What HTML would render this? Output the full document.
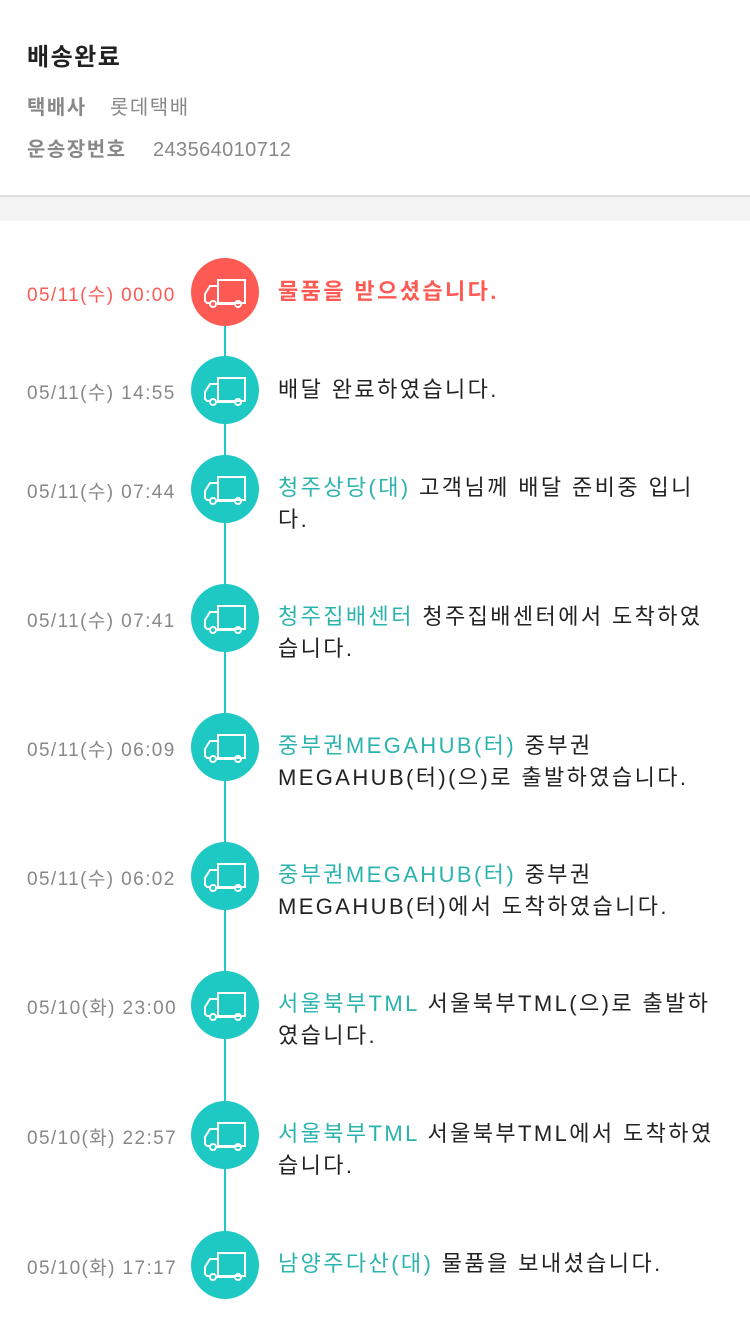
<!DOCTYPE html>
<html><head><meta charset="utf-8"><style>
*{margin:0;padding:0;box-sizing:border-box}
body{width:750px;height:1333px;background:#fff;font-family:"Liberation Sans","Noto Sans CJK KR",sans-serif;position:relative;overflow:hidden}
.t{position:absolute;left:27px;top:37px;font-size:24px;font-weight:bold;color:#222;letter-spacing:1.5px}
.r{position:absolute;left:27px;font-size:20px;color:#888;letter-spacing:1.5px}
.r b{color:#888;display:inline-block}
.band{position:absolute;left:0;top:195px;width:750px;height:26px;background:#f3f3f3;border-top:2px solid #ddd}
.line{position:absolute;left:224px;top:292px;width:2px;height:973px;background:#22c9c2}
.c{position:absolute;left:191px;width:68px;height:68px;border-radius:50%;background:#1fc9c3}
.c svg{position:absolute;left:13px;top:19px}
.d{position:absolute;left:27px;font-size:19px;color:#888;line-height:24px;letter-spacing:1.4px}
.x{position:absolute;left:278px;width:470px;font-size:22px;color:#222;line-height:32px;letter-spacing:2.4px;white-space:nowrap}
.g{color:#2bb3ad}
</style></head><body>
<div class="t">배송완료</div>
<div class="r" style="top:91px"><b style="width:83px">택배사</b>롯데택배</div>
<div class="r" style="top:133px"><b style="width:126px">운송장번호</b><span style="letter-spacing:0.4px">243564010712</span></div>
<div class="band"></div>
<div class="line"></div>

<svg width="0" height="0" style="position:absolute"><defs><g id="tr" fill="none" stroke="#fff" stroke-width="2"><path d="M14 3h27v23H14z"/><path d="M14 9H6L1 17v7l2 2h4"/><circle cx="9" cy="27" r="3"/><circle cx="34" cy="27" r="3"/><path d="M13 27h17"/></g></defs></svg>

<div class="c" style="top:258px;background:#fd5a53"><svg width="44" height="32"><use href="#tr"/></svg></div>
<div class="d" style="top:284px;color:#fd5a53">05/11(수) 00:00</div>
<div class="x" style="top:276px;color:#fd5a53;font-weight:bold">물품을 받으셨습니다.</div>

<div class="c" style="top:356px"><svg width="44" height="32"><use href="#tr"/></svg></div>
<div class="d" style="top:382px">05/11(수) 14:55</div>
<div class="x" style="top:374px">배달 완료하였습니다.</div>

<div class="c" style="top:455px"><svg width="44" height="32"><use href="#tr"/></svg></div>
<div class="d" style="top:481px">05/11(수) 07:44</div>
<div class="x" style="top:472px"><span class="g">청주상당(대)</span> 고객님께 배달 준비중 입니<br>다.</div>

<div class="c" style="top:584px"><svg width="44" height="32"><use href="#tr"/></svg></div>
<div class="d" style="top:610px">05/11(수) 07:41</div>
<div class="x" style="top:601px"><span class="g">청주집배센터</span> 청주집배센터에서 도착하였<br>습니다.</div>

<div class="c" style="top:713px"><svg width="44" height="32"><use href="#tr"/></svg></div>
<div class="d" style="top:739px">05/11(수) 06:09</div>
<div class="x" style="top:730px"><span class="g">중부권MEGAHUB(터)</span> 중부권<br>MEGAHUB(터)(으)로 출발하였습니다.</div>

<div class="c" style="top:842px"><svg width="44" height="32"><use href="#tr"/></svg></div>
<div class="d" style="top:868px">05/11(수) 06:02</div>
<div class="x" style="top:859px"><span class="g">중부권MEGAHUB(터)</span> 중부권<br>MEGAHUB(터)에서 도착하였습니다.</div>

<div class="c" style="top:971px"><svg width="44" height="32"><use href="#tr"/></svg></div>
<div class="d" style="top:997px">05/10(화) 23:00</div>
<div class="x" style="top:988px"><span class="g">서울북부TML</span> 서울북부TML(으)로 출발하<br>였습니다.</div>

<div class="c" style="top:1101px"><svg width="44" height="32"><use href="#tr"/></svg></div>
<div class="d" style="top:1127px">05/10(화) 22:57</div>
<div class="x" style="top:1118px"><span class="g">서울북부TML</span> 서울북부TML에서 도착하였<br>습니다.</div>

<div class="c" style="top:1231px"><svg width="44" height="32"><use href="#tr"/></svg></div>
<div class="d" style="top:1257px">05/10(화) 17:17</div>
<div class="x" style="top:1248px"><span class="g">남양주다산(대)</span> 물품을 보내셨습니다.</div>
</body></html>
